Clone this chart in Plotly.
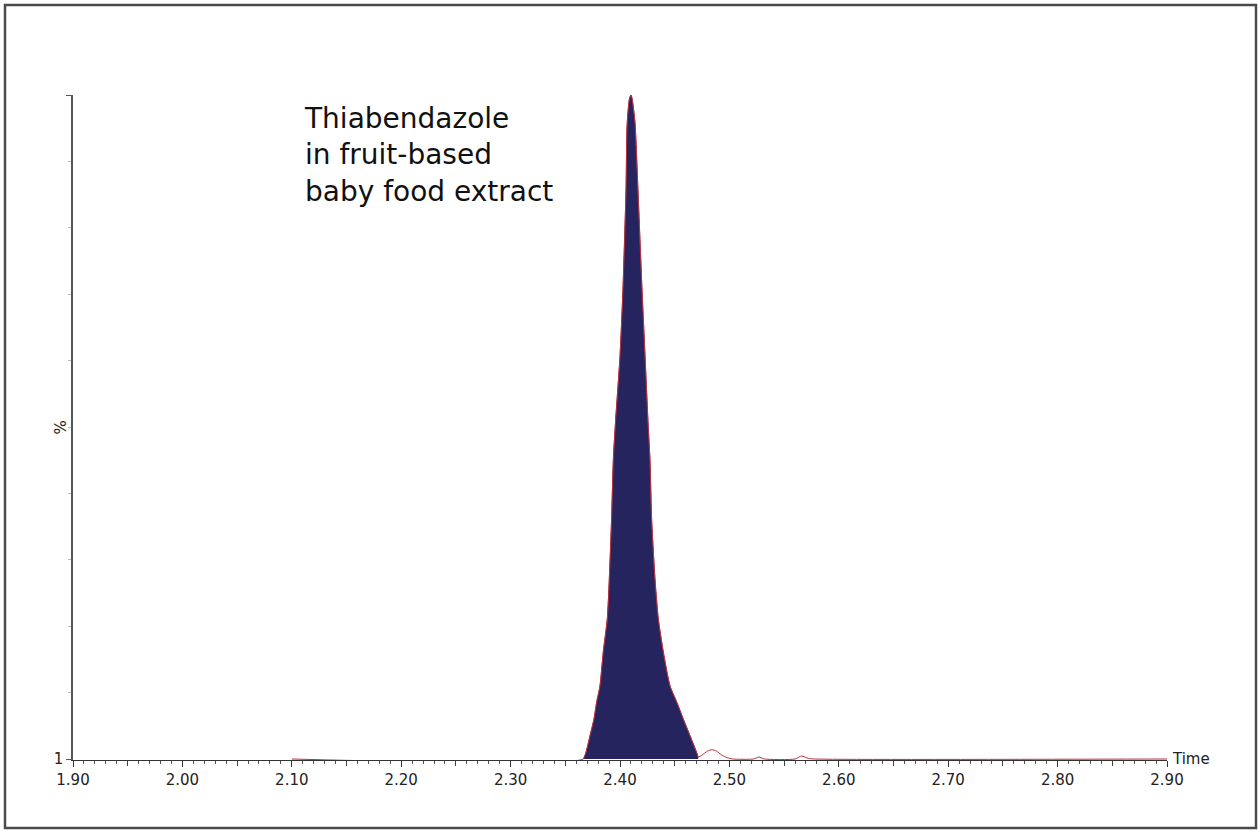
import plotly.graph_objects as go

# Retention time (min) and relative intensity (%)
peak_time = [2.3665, 2.3689, 2.3726, 2.3762, 2.3787, 2.3817, 2.3847, 2.3884, 2.3902,
             2.3923, 2.3939, 2.396, 2.400, 2.4027, 2.4055, 2.4065, 2.4085, 2.410,
             2.411, 2.4137, 2.4164, 2.4201, 2.4229, 2.4256, 2.4274, 2.4289, 2.432,
             2.435, 2.4396, 2.4457, 2.4518, 2.4579, 2.464, 2.470, 2.4715]
peak_int = [0, 1.0, 3.5, 6.0, 8.6, 11.0, 16.1, 21.1, 27.0,
            36.1, 45.0, 51.0, 60.6, 70.7, 85.7, 95.5, 99.3, 100,
            99.5, 95.8, 85.7, 70.7, 60.6, 50.7, 45.0, 36.1, 27.0,
            21.1, 16.1, 11.0, 8.6, 6.0, 3.5, 1.0, 0.3]

pre_time = [2.10, 2.3665]
pre_int = [0, 0]

tail_time = [2.4715, 2.475, 2.480, 2.484, 2.488, 2.493, 2.498, 2.503, 2.522,
             2.527, 2.532, 2.560, 2.566, 2.572, 2.578, 2.90]
tail_int = [0.3, 0.6, 1.2, 1.4, 1.2, 0.6, 0.2, 0, 0,
            0.3, 0, 0, 0.45, 0.1, 0, 0]

x_tick_vals = [1.90, 2.00, 2.10, 2.20, 2.30, 2.40, 2.50, 2.60, 2.70, 2.80, 2.90]
x_tick_text = ["1.90", "2.00", "2.10", "2.20", "2.30", "2.40", "2.50", "2.60", "2.70", "2.80", "2.90"]
x_mid_vals = [1.95, 2.05, 2.15, 2.25, 2.35, 2.45, 2.55, 2.65, 2.75, 2.85]
y_tick_vals = [0, 100]
y_tick_text = ["1", ""]

title_lines = ["Thiabendazole", "in fruit-based", "baby food extract"]

LINE = "#b8323e"
FILL = "#25245e"
FONT = "DejaVu Sans"

fig = go.Figure()

fig.add_trace(go.Scatter(x=pre_time + peak_time[1:] + tail_time[1:],
                         y=pre_int + peak_int[1:] + tail_int[1:],
                         mode="lines", line=dict(color=LINE, width=1, shape="spline", smoothing=0.6),
                         hoverinfo="skip", showlegend=False))
fig.add_trace(go.Scatter(x=peak_time, y=peak_int, mode="lines", fill="tozeroy",
                         fillcolor=FILL, line=dict(color=LINE, width=1, shape="spline", smoothing=0.6),
                         showlegend=False))
# medium ticks at the half-tenths
fig.add_trace(go.Scatter(x=x_mid_vals, y=[0] * len(x_mid_vals), xaxis="x2",
                         mode="markers", marker=dict(size=0.1, opacity=0),
                         hoverinfo="skip", showlegend=False))

l, r, t, b = 73, 93, 95, 71
W, H = 1260, 831
pw, ph = W - l - r, H - t - b

def px_x(px):
    return (px - l) / pw

def px_y(py):
    return (H - b - py) / ph

fig.update_layout(
    width=W, height=H,
    margin=dict(l=l, r=r, t=t, b=b),
    paper_bgcolor="white", plot_bgcolor="white",
    font=dict(family=FONT, color="#222222"),
    xaxis=dict(range=[1.90, 2.90], tickvals=x_tick_vals, ticktext=x_tick_text,
               showgrid=False, zeroline=False, showline=True, linecolor="#333333",
               linewidth=1, ticks="outside", ticklen=6, tickcolor="#333333",
               tickfont=dict(size=15, family=FONT, color="#222222"),
               minor=dict(dtick=0.01, tick0=1.90, ticklen=3, ticks="outside",
                          tickcolor="#555555", showgrid=False),
               layer="below traces", fixedrange=True),
    xaxis2=dict(range=[1.90, 2.90], overlaying="x", anchor="y", side="bottom",
                tickvals=x_mid_vals, showticklabels=False, ticks="outside",
                ticklen=5, tickcolor="#444444", showgrid=False, zeroline=False,
                showline=False, layer="below traces"),
    yaxis=dict(range=[-0.15, 100], tickvals=y_tick_vals, ticktext=y_tick_text,
               showgrid=False, zeroline=False, showline=True, linecolor="#555555",
               linewidth=1.5, ticks="outside", ticklen=5, tickcolor="#555555",
               tickfont=dict(size=15, family=FONT, color="#222222"),
               minor=dict(dtick=10, tick0=0, ticklen=3, ticks="outside",
                          tickcolor="#bbbbbb", showgrid=False),
               layer="below traces", fixedrange=True),
    shapes=[dict(type="rect", xref="paper", yref="paper",
                 x0=px_x(5), x1=px_x(1256), y0=px_y(828), y1=px_y(5),
                 line=dict(color="#4a4a4a", width=2.5))],
    annotations=[
        dict(text="<br>".join(title_lines), xref="paper", yref="paper",
             x=px_x(302), y=px_y(100), xanchor="left", yanchor="top", align="left",
             showarrow=False, font=dict(size=28, family=FONT, color="#111111")),
        dict(text="Time", xref="paper", yref="y", x=1, y=0, xanchor="left",
             yanchor="middle", xshift=3, showarrow=False,
             font=dict(size=15, family=FONT, color="#222222")),
        dict(text="%", xref="paper", yref="paper", x=px_x(60), y=0.5,
             xanchor="center", yanchor="middle", textangle=-90, showarrow=False,
             font=dict(size=15, family=FONT, color="#222222")),
    ],
)

fig.write_html("out.html", config={"displayModeBar": False},
               post_script="document.body.style.margin='0';document.body.style.overflow='hidden';")
